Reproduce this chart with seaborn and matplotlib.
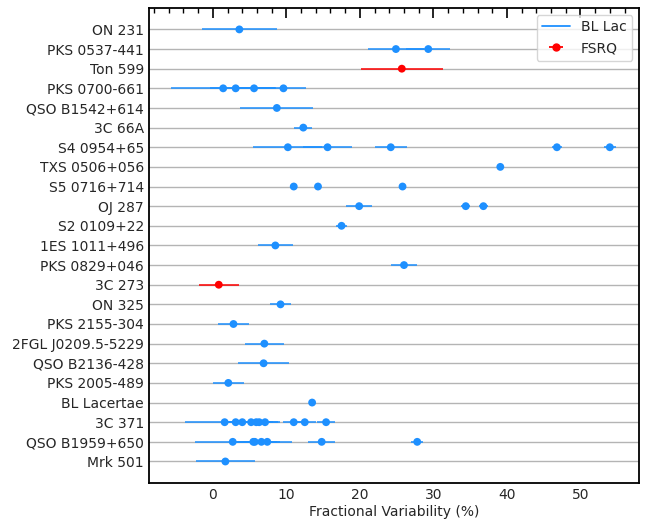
#!/usr/bin/env python3
"""
Fractional variability per blazar, with error bars
"""
import pandas as pd
import numpy as np
import matplotlib
matplotlib.use('Agg')
import matplotlib.pyplot as plt
import seaborn as sns
from matplotlib.lines import Line2D

# Sources, top to bottom
sources = [
    'ON 231', 'PKS 0537-441', 'Ton 599', 'PKS 0700-661', 'QSO B1542+614',
    '3C 66A', 'S4 0954+65', 'TXS 0506+056', 'S5 0716+714', 'OJ 287',
    'S2 0109+22', '1ES 1011+496', 'PKS 0829+046', '3C 273', 'ON 325',
    'PKS 2155-304', '2FGL J0209.5-5229', 'QSO B2136-428', 'PKS 2005-489',
    'BL Lacertae', '3C 371', 'QSO B1959+650', 'Mrk 501',
]
classes = [
    'BL Lac', 'BL Lac', 'FSRQ', 'BL Lac', 'BL Lac',
    'BL Lac', 'BL Lac', 'BL Lac', 'BL Lac', 'BL Lac',
    'BL Lac', 'BL Lac', 'BL Lac', 'FSRQ', 'BL Lac',
    'BL Lac', 'BL Lac', 'BL Lac', 'BL Lac',
    'BL Lac', 'BL Lac', 'BL Lac', 'BL Lac',
]

# Fractional variability (%) for each observation of each source
fv_values = [
    [3.6],
    [24.9, 29.3],
    [25.7],
    [1.4, 3.1, 5.6, 9.6],
    [8.7],
    [12.3],
    [10.2, 15.6, 24.2, 46.8, 54.0],
    [39.1],
    [11.0, 14.3, 25.8],
    [19.9, 34.4, 36.8],
    [17.5],
    [8.5],
    [26.0],
    [0.8],
    [9.2],
    [2.8],
    [7.0],
    [6.9],
    [2.1],
    [13.5],
    [1.6, 3.1, 4.0, 5.2, 5.9, 6.3, 7.1, 11.0, 12.5, 15.4],
    [2.7, 5.5, 5.7, 6.6, 7.4, 14.8, 27.8],
    [1.7],
]
fv_errors = [
    [5.1],
    [3.8, 3.0],
    [5.6],
    [7.1, 3.5, 3.0, 3.1],
    [4.95],
    [1.2],
    [4.7, 3.3, 2.2, 0.7, 0.8],
    [0.3],
    [0.3, 0.3, 0.3],
    [1.8, 0.6, 0.6],
    [0.7],
    [2.4],
    [1.8],
    [2.75],
    [1.45],
    [2.15],
    [2.65],
    [3.45],
    [2.1],
    [0.3],
    [5.4, 2.0, 2.5, 3.0, 2.0, 2.5, 2.0, 1.5, 1.5, 1.2],
    [5.1, 2.5, 3.0, 2.5, 3.3, 1.85, 0.8],
    [4.0],
]

colors = {'BL Lac': '#1e90ff', 'FSRQ': '#ff0000'}

# long table, one row per observation
rows = []
for i, (src, cls) in enumerate(zip(sources, classes)):
    for v, e in zip(fv_values[i], fv_errors[i]):
        rows.append({'source': src, 'pos': i, 'class': cls, 'fv': v, 'err': e})
df = pd.DataFrame(rows)

sns.set_style('white')
plt.rcParams['font.family'] = ['DejaVu Sans']

fig = plt.figure(figsize=(6.59, 5.2), dpi=100)
ax = fig.add_axes([0.226, 0.071, 0.744, 0.914])

# error bars
for cls, sub in df.groupby('class'):
    ax.errorbar(sub['fv'], sub['pos'], xerr=sub['err'], fmt='none',
                ecolor=colors[cls], elinewidth=1.3, alpha=0.85, zorder=2)

# points
sns.scatterplot(data=df, x='fv', y='pos', hue='class', palette=colors,
                s=32, linewidth=0, legend=False, ax=ax, zorder=3)

ax.set_yticks(range(len(sources)))
ax.set_yticklabels(sources, fontsize=10)
ax.set_ylim(len(sources) - 1 + 1.1, -1.1)
ax.set_xlim(-8.7, 58)
ax.set_ylabel('')
ax.set_xlabel('Fractional Variability (%)', fontsize=10, labelpad=2)

ax.yaxis.grid(True, color='#b4b4b4', linewidth=1.0, zorder=0)
ax.set_axisbelow(True)

ax.set_xticks(np.arange(0, 51, 10))
ax.set_xticks(np.arange(-8, 58, 2), minor=True)
ax.tick_params(axis='x', which='major', direction='in', top=True,
               length=7, width=1.2, labelsize=10, color='black')
ax.tick_params(axis='x', which='minor', direction='in', top=True,
               length=3.5, width=1.0, color='black')
ax.tick_params(axis='y', length=0, labelsize=10)

for spine in ax.spines.values():
    spine.set_color('black')
    spine.set_linewidth(1.3)

# legend: line for BL Lac, errorbar style for FSRQ
bl_handle = Line2D([], [], color=colors['BL Lac'], linewidth=1.3)
fs_handle = ax.errorbar([], [], xerr=[], fmt='o', color=colors['FSRQ'],
                        markersize=5, elinewidth=1.3)
ax.legend([bl_handle, fs_handle], ['BL Lac', 'FSRQ'], loc='upper right',
          fontsize=10, frameon=True)

fig.savefig('out.png', dpi=100)
